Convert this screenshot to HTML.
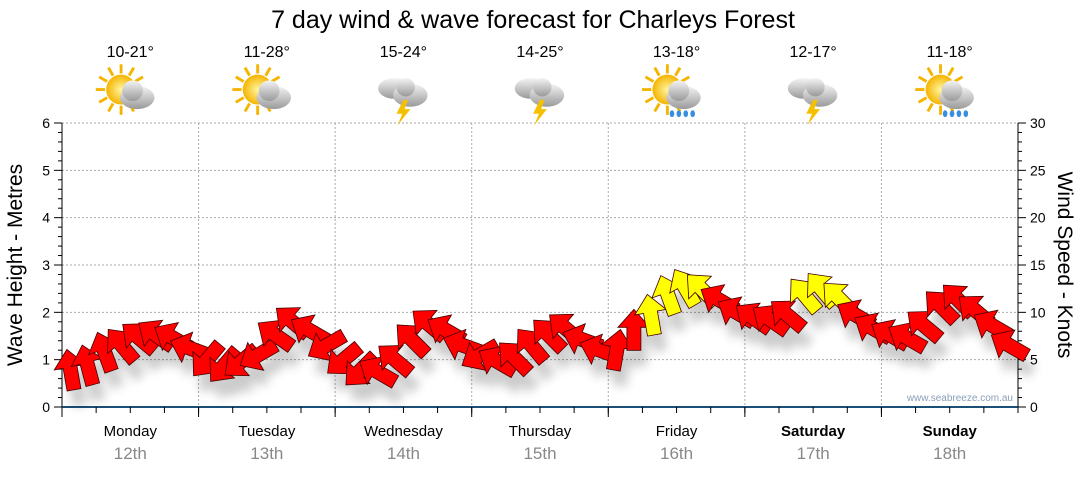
<!DOCTYPE html>
<html><head><meta charset="utf-8"><style>
body{margin:0;background:#fff;font-family:"Liberation Sans",sans-serif}
svg text{font-family:"Liberation Sans","DejaVu Sans",sans-serif}
</style></head><body>
<svg id="c" width="1080" height="475" viewBox="0 0 1080 475">
<defs>
<filter id="sh" x="-50%" y="-50%" width="200%" height="200%"><feGaussianBlur stdDeviation="5"/></filter>
<radialGradient id="sun" cx="50%" cy="50%" r="50%"><stop offset="0" stop-color="#fff6a0"/><stop offset="1" stop-color="#f5b400"/></radialGradient>
<linearGradient id="cl" x1="0" y1="0" x2="0" y2="1"><stop offset="0" stop-color="#f4f4f4"/><stop offset="1" stop-color="#9a9a9a"/></linearGradient>
</defs>
<text x="533" y="28" font-size="25" text-anchor="middle" fill="#000">7 day wind &amp; wave forecast for Charleys Forest</text>
<g id="gridG"></g>
<g id="axesG"></g>
<g id="shadowsG" filter="url(#sh)" opacity="0.2"></g>
<g id="arrowsG"></g>
<g id="labelsG"></g>
<text x="22" y="265" font-size="21" text-anchor="middle" transform="rotate(-90 22 265)">Wave Height - Metres</text>
<text x="1058" y="265" font-size="21" text-anchor="middle" transform="rotate(90 1058 265)">Wind Speed - Knots</text>
<text x="1013" y="401" font-size="10" text-anchor="end" fill="#8aa0b8">www.seabreeze.com.au</text>
</svg>
<script>
const days=["Monday","Tuesday","Wednesday","Thursday","Friday","Saturday","Sunday"];
const dates=["12th","13th","14th","15th","16th","17th","18th"];
const temps=["10-21°","11-28°","15-24°","14-25°","13-18°","12-17°","11-18°"];
const icons=["suncloud","suncloud","storm","storm","sunrain","storm","sunrain"];
const leftTicks=[0,1,2,3,4,5,6];
const rightTicks=[0,5,10,15,20,25,30];
const windKnots=[3.9,4.4,5.8,6.5,7.3,7.6,7.3,6.2, 5.0,4.4,4.8,5.5,7.6,9.0,8.1,6.5, 5.0,3.9,3.7,5.0,7.1,8.7,8.1,6.5, 5.5,4.8,5.2,6.5,7.6,8.3,7.1,6.0, 6.0,8.1,9.7,11.8,12.6,12.4,11.3,10.0, 9.4,9.2,9.7,11.8,12.4,11.5,9.7,8.3, 7.6,7.3,8.6,10.6,11.3,10.2,8.6,6.5];
const windDir=[-10,-15,-20,-40,-50,-55,-60,-70, -140,-140,-130,-120,-55,-50,-60,-120, -130,-135,-60,-50,-45,-50,-60,-70, -120,-60,-45,-40,-45,-50,-70,-70, 10,0,-10,-20,-30,-45,-60,-60, -55,-55,-50,-40,-40,-45,-60,-60, -60,-60,-50,-45,-45,-50,-60,-60];
const windColor=["r","r","r","r","r","r","r","r","r","r","r","r","r","r","r","r","r","r","r","r","r","r","r","r","r","r","r","r","r","r","r","r","r","r","y","y","y","y","r","r","r","r","r","y","y","y","r","r","r","r","r","r","r","r","r","r"];
const NS="http://www.w3.org/2000/svg";
const X0=62,X1=1018,Y0=407,Y1=123;
const dayW=(X1-X0)/7;
const yM=v=>Y0-(v/6)*(Y0-Y1);
const yK=v=>Y0-(v/30)*(Y0-Y1);
const xI=i=>X0+(i+0.5)*(X1-X0)/windKnots.length;
function mk(p,tag,a){const e=document.createElementNS(NS,tag);for(const k in a)e.setAttribute(k,a[k]);p.appendChild(e);return e;}
const gridG=document.getElementById('gridG'),axesG=document.getElementById('axesG'),labelsG=document.getElementById('labelsG');
leftTicks.forEach(v=>{if(v>0){const l=mk(gridG,'line',{x1:X0,x2:X1,y1:yM(v),y2:yM(v),stroke:'#aaa','stroke-dasharray':'2,2'});

}
const t=mk(axesG,'text',{x:50,y:yM(v)+5,'font-size':14,'text-anchor':'end'});t.textContent=v;

});
rightTicks.forEach(v=>{const t=mk(axesG,'text',{x:1030,y:yK(v)+5,'font-size':14});t.textContent=v;

});
for(let v=0;v<=6.001;v+=0.2){const maj=Math.abs(v-Math.round(v))<0.01;
mk(axesG,'line',{x1:X0-(maj?8:4),x2:X0,y1:yM(v),y2:yM(v),stroke:'#000'});
mk(axesG,'line',{x1:X1,x2:X1+(maj?8:4),y1:yM(v),y2:yM(v),stroke:'#000'});}
mk(axesG,'line',{x1:X0,x2:X0,y1:Y1,y2:Y0,stroke:'#000'});
mk(axesG,'line',{x1:X1,x2:X1,y1:Y1,y2:Y0,stroke:'#000'});
mk(axesG,'line',{x1:X0,x2:X1,y1:Y0,y2:Y0,stroke:'#1a4f7a','stroke-width':2});
for(let d=0;d<7;d++){
 const xs=X0+d*dayW;
 if(d>0){const g=mk(gridG,'line',{x1:xs,x2:xs,y1:Y1,y2:Y0,stroke:'#aaa','stroke-dasharray':'2,2'});
 
 }
 for(let k=0;k<=4;k++){const xx=xs+k*dayW/4;mk(axesG,'line',{x1:xx,x2:xx,y1:Y0,y2:Y0+(k==0?10:6),stroke:'#000'});}
 const cx=xs+dayW/2;
 const wk=d>=5;
 const t=mk(labelsG,'text',{x:cx,y:436,'font-size':15,'text-anchor':'middle','font-weight':wk?'bold':'normal'});t.textContent=days[d];
 
 
 const t2=mk(labelsG,'text',{x:cx,y:459,'font-size':17,'text-anchor':'middle',fill:'#888'});t2.textContent=dates[d];
 
 
 const t3=mk(labelsG,'text',{x:cx,y:57,'font-size':16,'text-anchor':'middle'});t3.textContent=temps[d];
 
 
 const ic=mk(labelsG,'g',{transform:`translate(${cx},93) scale(1.15)`});
 
 
 const ty=icons[d];
 if(ty!=='storm'){for(let r=0;r<12;r++){const a=r*Math.PI/6;mk(ic,'line',{x1:-8+Math.cos(a)*14,y1:-3+Math.sin(a)*14,x2:-8+Math.cos(a)*22,y2:-3+Math.sin(a)*22,stroke:'#f5b400','stroke-width':2.5});}
  mk(ic,'circle',{cx:-8,cy:-3,r:13,fill:'url(#sun)'});
  mk(ic,'ellipse',{cx:6,cy:4,rx:15,ry:10,fill:'url(#cl)'});mk(ic,'circle',{cx:2,cy:-2,r:9,fill:'url(#cl)'});
  if(ty==='sunrain'){[-4,2,8,14].forEach(q=>mk(ic,'ellipse',{cx:q,cy:18,rx:2,ry:3,fill:'#3a8ee0'}));}
 }else{
  mk(ic,'ellipse',{cx:-8,cy:-4,rx:14,ry:9,fill:'url(#cl)'});mk(ic,'ellipse',{cx:6,cy:2,rx:15,ry:10,fill:'url(#cl)'});mk(ic,'circle',{cx:2,cy:-5,r:8,fill:'url(#cl)'});
  mk(ic,'polygon',{points:'0,6 -6,18 -1,18 -5,28 6,14 1,14 4,6',fill:'#f5c000'});
 }
}
const shG=document.getElementById('shadowsG'),arG=document.getElementById('arrowsG');
const shape="0,-21 16,-3 7,-3 7,20 -7,20 -7,-3 -16,-3";
windKnots.forEach((v,i)=>{
 const x=xI(i),y=yK(v);
 mk(shG,'polygon',{points:shape,fill:'#000',transform:`translate(${x+6},${y+16}) rotate(${windDir[i]})`});
 const p=mk(arG,'polygon',{points:shape,fill:windColor[i]==='y'?'#ffff00':'#ff0000',stroke:'#400','stroke-width':0.8,transform:`translate(${x},${y}) rotate(${windDir[i]})`});
 
 
});
</script>
</body></html>
